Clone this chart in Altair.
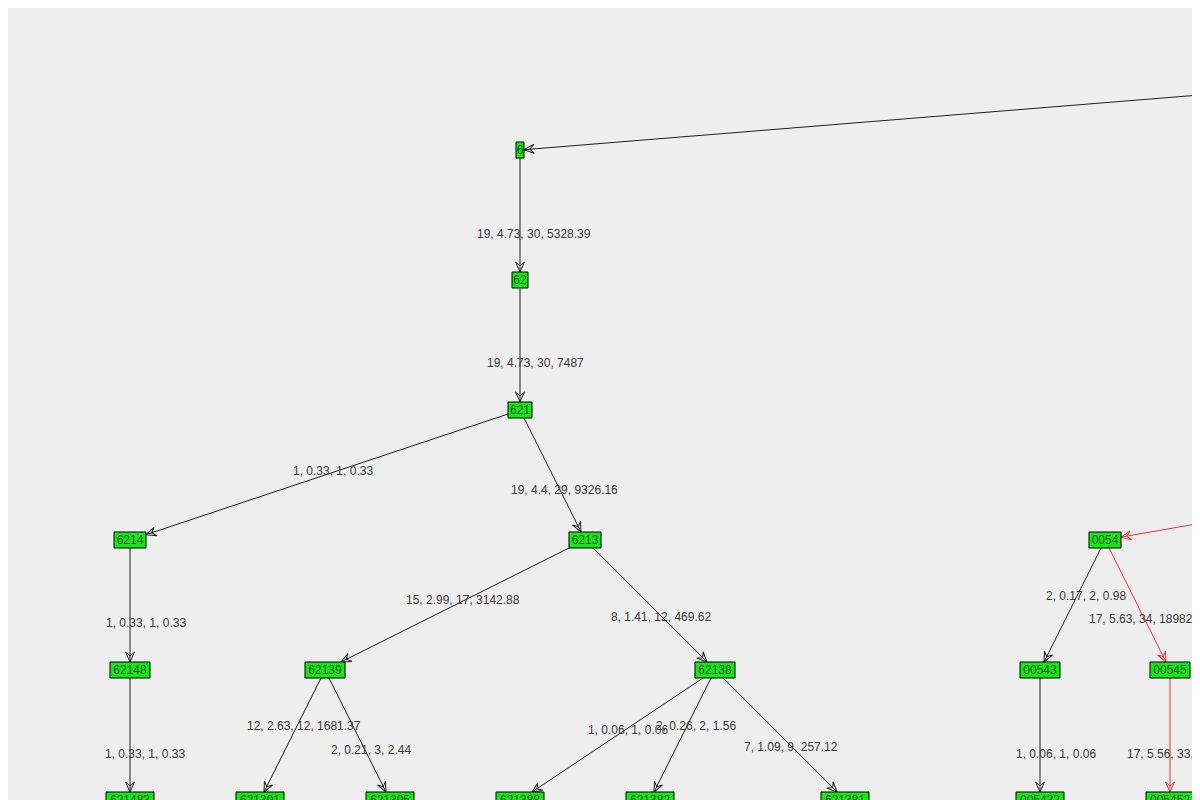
import math
import pandas as pd
import altair as alt

# --- Nodes of the tree: the depth of a node is the length of its name ---
node_names = ["", "6", "62", "621", "6214", "6213", "62148", "62139", "62138",
              "621483", "621391", "621395", "621388", "621382", "621381",
              "005", "0054", "00543", "00545", "005432", "005452"]
node_x = [2127, 520, 520, 520, 130, 585, 130, 325, 715,
          130, 260, 390, 520, 650, 845,
          1844, 1105, 1040, 1170, 1040, 1170]

# --- Highlighted path (red edges), given by the child node ---
path_nodes = ["0054", "00545", "005452"]

# --- Edge labels, given by the child node ---
label_target = ["62", "621", "6214", "6213", "62148", "62139", "62138",
                "621483", "621391", "621395", "621388", "621382", "621381",
                "00543", "00545", "005432", "005452"]
label_text = ["19, 4.73, 30, 5328.39", "19, 4.73, 30, 7487", "1, 0.33, 1, 0.33",
              "19, 4.4, 29, 9326.16", "1, 0.33, 1, 0.33", "15, 2.99, 17, 3142.88",
              "8, 1.41, 12, 469.62", "1, 0.33, 1, 0.33", "12, 2.63, 12, 1681.37",
              "2, 0.21, 3, 2.44", "1, 0.06, 1, 0.06", "2, 0.26, 2, 1.56",
              "7, 1.09, 9, 257.12", "2, 0.17, 2, 0.98", "17, 5.63, 34, 18982.6",
              "1, 0.06, 1, 0.06", "17, 5.56, 33, 2"]
label_x = [477, 487, 293, 511, 106, 406, 611, 105, 247, 331, 588, 656, 744,
           1046, 1089, 1016, 1127]
label_y = [234, 363, 471, 490, 623, 600, 617, 754, 726, 750, 730, 726, 747,
           596, 619, 754, 754]

ROW0, ROW_STEP = 20, 130
CHAR_W, HALF_H = 8, 8

# --- Node table ---
nodes = pd.DataFrame({"name": node_names, "x": node_x})
nodes["depth"] = nodes["name"].str.len()
nodes["y"] = ROW0 + ROW_STEP * nodes["depth"]
nodes["x1"] = nodes["x"] - CHAR_W * nodes["depth"] / 2
nodes["x2"] = nodes["x"] + CHAR_W * nodes["depth"] / 2
nodes["y1"] = nodes["y"] - HALF_H
nodes["y2"] = nodes["y"] + HALF_H
pos = nodes.set_index("name")

# --- Edge table: from parent centre to the border of the child box ---
rows = []
for name in node_names:
    if name == "" or name[:-1] not in pos.index:
        continue
    s, t = pos.loc[name[:-1]], pos.loc[name]
    dx, dy = t["x"] - s["x"], t["y"] - s["y"]
    hw = CHAR_W * t["depth"] / 2
    k = min(hw / abs(dx) if dx else 1e9, HALF_H / abs(dy) if dy else 1e9)
    rows.append({
        "child": name,
        "sx": s["x"], "sy": s["y"],
        "tx": t["x"] - dx * k, "ty": t["y"] - dy * k,
        "angle": math.degrees(math.atan2(dy, dx)) % 360,
        "kind": "path" if name in path_nodes else "normal",
    })
edges = pd.DataFrame(rows)

labels = pd.DataFrame({"child": label_target, "text": label_text,
                       "x": label_x, "y": label_y})

# page pixel = data value (the page has an 8px margin)
xs = alt.Scale(domain=[8, 1192], nice=False, zero=False)
ys = alt.Scale(domain=[8, 800], nice=False, zero=False, reverse=True)
col = alt.Color("kind:N", scale=alt.Scale(domain=["normal", "path"],
                                          range=["#1e1e1e", "#e33535"]), legend=None)

lines = alt.Chart(edges).mark_rule(strokeWidth=1, clip=True).encode(
    x=alt.X("sx:Q", scale=xs, axis=None),
    y=alt.Y("sy:Q", scale=ys, axis=None),
    x2="tx:Q",
    y2="ty:Q",
    color=col,
)

arrows = alt.Chart(edges).mark_point(
    shape="M0,0L-1,-0.45L-0.6,0L-1,0.45Z",
    size=400, filled=False, strokeWidth=1, opacity=1, clip=True,
).encode(
    x=alt.X("tx:Q", scale=xs, axis=None),
    y=alt.Y("ty:Q", scale=ys, axis=None),
    angle=alt.Angle("angle:Q", scale=None),
    color=col,
)

boxes = alt.Chart(nodes).mark_rect(
    fill="#19e619", stroke="#000000", strokeWidth=1, clip=True
).encode(
    x=alt.X("x1:Q", scale=xs, axis=None),
    x2="x2:Q",
    y=alt.Y("y1:Q", scale=ys, axis=None),
    y2="y2:Q",
)

node_text = alt.Chart(nodes).mark_text(
    font="Liberation Sans", fontSize=12, color="#1c561c",
    align="center", baseline="middle", clip=True,
).encode(
    x=alt.X("x:Q", scale=xs, axis=None),
    y=alt.Y("y:Q", scale=ys, axis=None),
    text="name:N",
)

edge_text = alt.Chart(labels).mark_text(
    font="Liberation Sans", fontSize=12, color="#3a3a3a",
    align="left", baseline="middle", clip=True,
).encode(
    x=alt.X("x:Q", scale=xs, axis=None),
    y=alt.Y("y:Q", scale=ys, axis=None),
    text="text:N",
)

chart = (
    alt.layer(lines, arrows, boxes, node_text, edge_text)
    .properties(width=1184, height=792, background="#eeeeee", padding=0,
                autosize=alt.AutoSizeParams(type="none"))
    .configure_view(stroke=None)
)

chart.save("out.html", embed_options={"renderer": "svg", "actions": False})
